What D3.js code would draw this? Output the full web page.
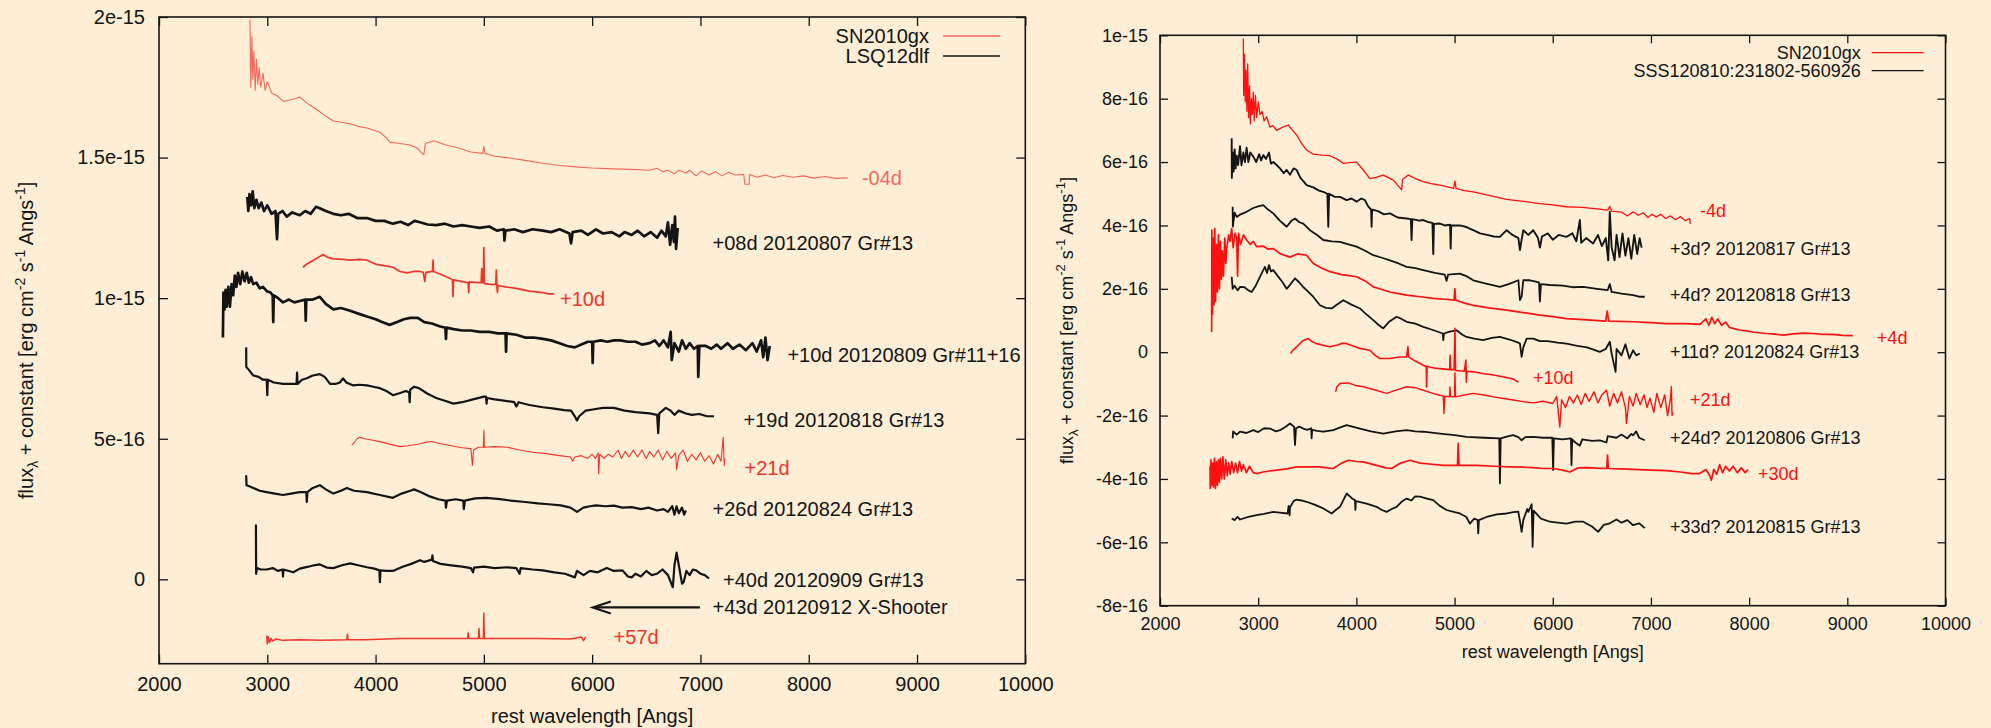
<!DOCTYPE html>
<html lang="en">
<head>
<meta charset="UTF-8">
<title>SN2010gx comparison spectra</title>
<style>
  body { margin: 0; background: #fdeed5; }
  svg { display: block; }
  text { font-family: "Liberation Sans", Arial, Helvetica, sans-serif; }
</style>
</head>
<body>
<svg id="chart" width="1991" height="728"></svg>
<script src="https://d3js.org/d3.v7.min.js"></script>
<script>
// flux in units of 1e-16 erg cm^-2 s^-1 A^-1 (each spectrum already shifted by its constant)
const xTicks = [2000, 3000, 4000, 5000, 6000, 7000, 8000, 9000, 10000];
const xTickLabels = ["2000", "3000", "4000", "5000", "6000", "7000", "8000", "9000", "10000"];
const leftYTicks = [0, 5, 10, 15, 20];
const leftYTickLabels = ["0", "5e-16", "1e-15", "1.5e-15", "2e-15"];
const rightYTicks = [-8, -6, -4, -2, 0, 2, 4, 6, 8, 10];
const rightYTickLabels = ["-8e-16", "-6e-16", "-4e-16", "-2e-16", "0", "2e-16", "4e-16", "6e-16", "8e-16", "1e-15"];

// ---- left panel: SN2010gx vs LSQ12dlf ----
const gxL_m04 = [[2840,19.9],[2848,17.5],[2858,19.3],[2866,17.8],[2876,18.8],[2888,17.4],[2900,18.5],[2912,17.6],[2925,18.2],[2940,17.5],[2960,18.0],[2980,17.4],[3000,17.7],[3040,17.3],[3090,17.2],[3150,17.0],[3210,17.05],[3260,17.1],[3300,17.15],[3380,16.9],[3460,16.7],[3530,16.5],[3610,16.3],[3700,16.25],[3765,16.2],[3850,16.1],[3920,16.05],[4040,15.9],[4100,15.7],[4130,15.55],[4225,15.5],[4320,15.45],[4380,15.35],[4430,15.15],[4445,15.1],[4460,15.5],[4540,15.6],[4650,15.45],[4760,15.35],[4880,15.2],[4990,15.15],[5000,15.4],[5010,15.15],[5100,15.05],[5215,15.0],[5380,14.9],[5545,14.8],[5700,14.72],[5875,14.66],[6000,14.63],[6200,14.6],[6350,14.58],[6530,14.55],[6600,14.62],[6650,14.5],[6700,14.55],[6760,14.42],[6800,14.55],[6865,14.45],[6900,14.55],[6960,14.35],[7010,14.52],[7080,14.38],[7140,14.5],[7200,14.35],[7260,14.48],[7320,14.38],[7400,14.4],[7410,14.05],[7450,14.05],[7455,14.4],[7520,14.3],[7600,14.38],[7680,14.28],[7760,14.36],[7855,14.3],[7950,14.35],[8050,14.27],[8150,14.33],[8250,14.26],[8360,14.28]];
const lsq_p08 = [[2815,13.6],[2825,13.1],[2835,13.7],[2850,13.3],[2865,13.8],[2880,13.2],[2900,13.5],[2920,13.2],[2945,13.4],[2970,13.1],[3000,13.3],[3040,13.0],[3075,13.1],[3090,12.1],[3100,13.0],[3140,13.1],[3180,12.9],[3230,13.05],[3300,12.95],[3350,13.1],[3400,13.0],[3450,13.25],[3485,13.2],[3540,13.1],[3610,13.0],[3680,12.95],[3750,13.0],[3830,12.85],[3920,12.85],[4000,12.75],[4080,12.75],[4160,12.65],[4230,12.72],[4300,12.6],[4360,12.75],[4410,12.7],[4480,12.62],[4560,12.6],[4640,12.65],[4720,12.55],[4800,12.6],[4880,12.55],[4960,12.5],[5050,12.55],[5120,12.4],[5185,12.45],[5190,12.05],[5200,12.4],[5280,12.45],[5360,12.35],[5450,12.45],[5545,12.4],[5620,12.35],[5700,12.45],[5790,12.3],[5805,11.95],[5820,12.35],[5900,12.4],[5960,12.25],[6035,12.45],[6100,12.3],[6180,12.35],[6250,12.2],[6300,12.35],[6365,12.25],[6420,12.4],[6480,12.2],[6540,12.35],[6600,12.15],[6640,12.4],[6680,12.2],[6700,12.7],[6720,11.9],[6740,12.6],[6755,12.0],[6765,12.9],[6775,11.75],[6790,12.5]];
const gxL_p10 = [[3330,11.1],[3360,11.2],[3425,11.35],[3470,11.45],[3515,11.55],[3560,11.45],[3610,11.4],[3700,11.38],[3765,11.35],[3850,11.38],[3920,11.35],[4010,11.2],[4090,11.15],[4160,11.1],[4225,10.95],[4290,10.9],[4350,10.95],[4410,10.95],[4440,10.92],[4455,10.6],[4465,10.92],[4525,10.95],[4530,11.35],[4535,10.95],[4600,10.85],[4680,10.72],[4710,10.65],[4715,10.05],[4720,10.65],[4790,10.6],[4855,10.55],[4860,10.2],[4865,10.58],[4950,10.55],[4975,10.55],[4980,11.05],[4985,10.55],[4995,10.55],[5000,11.8],[5005,10.52],[5080,10.48],[5110,10.5],[5115,11.0],[5120,10.45],[5125,10.2],[5130,10.45],[5200,10.4],[5300,10.35],[5420,10.25],[5545,10.2],[5600,10.15],[5650,10.15]];
const lsq_p10 = [[2590,8.6],[2595,10.2],[2605,9.6],[2615,10.3],[2625,9.7],[2640,10.4],[2655,9.7],[2670,10.5],[2685,10.1],[2700,10.8],[2715,10.4],[2730,10.9],[2750,10.5],[2770,10.95],[2790,10.6],[2810,10.9],[2830,10.55],[2850,10.75],[2870,10.5],[2900,10.55],[2930,10.35],[2960,10.4],[2995,10.25],[3030,10.2],[3050,10.1],[3055,9.15],[3060,10.1],[3100,10.0],[3145,9.85],[3200,9.95],[3250,9.85],[3300,9.9],[3350,9.95],[3355,9.2],[3360,9.95],[3420,9.95],[3485,10.05],[3540,9.8],[3610,9.6],[3680,9.65],[3765,9.55],[3840,9.45],[3920,9.35],[4000,9.25],[4060,9.15],[4130,9.05],[4200,9.15],[4260,9.25],[4320,9.3],[4390,9.3],[4450,9.15],[4520,9.1],[4590,9.0],[4645,8.95],[4650,8.55],[4655,8.95],[4720,8.9],[4800,8.85],[4880,8.85],[4960,8.8],[5050,8.8],[5130,8.75],[5200,8.75],[5205,8.1],[5210,8.75],[5300,8.7],[5380,8.6],[5460,8.6],[5545,8.55],[5620,8.5],[5700,8.4],[5770,8.3],[5840,8.25],[5900,8.35],[5960,8.45],[6000,8.45],[6005,7.7],[6010,8.45],[6080,8.5],[6140,8.45],[6200,8.5],[6260,8.5],[6330,8.45],[6400,8.45],[6460,8.35],[6530,8.4],[6580,8.5],[6620,8.3],[6660,8.5],[6700,8.25],[6725,8.8],[6735,7.8],[6760,8.4],[6800,8.1],[6830,8.5],[6865,8.2],[6900,8.4],[6940,8.2],[6975,8.3],[6980,7.2],[6990,8.3],[7050,8.3],[7100,8.2],[7150,8.35],[7190,8.2],[7250,8.4],[7300,8.2],[7360,8.35],[7420,8.15],[7480,8.4],[7520,8.1],[7560,8.5],[7580,7.9],[7600,8.6],[7620,7.8],[7640,8.3]];
const lsq_p19 = [[2805,8.25],[2806,7.55],[2830,7.45],[2870,7.25],[2920,7.2],[2960,7.1],[2995,7.1],[3000,6.55],[3005,7.1],[3060,7.0],[3145,6.95],[3200,6.95],[3270,6.95],[3275,7.35],[3280,6.95],[3320,7.1],[3365,7.15],[3420,7.25],[3485,7.3],[3530,7.2],[3580,6.95],[3630,6.95],[3670,7.0],[3700,7.15],[3730,7.0],[3790,6.9],[3850,6.92],[3920,6.9],[3980,6.85],[4040,6.8],[4100,6.7],[4160,6.55],[4220,6.62],[4280,6.7],[4310,6.65],[4315,6.3],[4320,6.75],[4355,6.85],[4400,6.8],[4480,6.6],[4560,6.45],[4640,6.35],[4720,6.25],[4800,6.3],[4900,6.4],[5000,6.5],[5020,6.5],[5025,6.25],[5030,6.45],[5100,6.4],[5200,6.35],[5280,6.3],[5300,6.15],[5320,6.3],[5420,6.2],[5545,6.12],[5650,6.07],[5740,6.02],[5805,6.0],[5840,5.8],[5860,5.65],[5880,5.8],[5940,6.0],[6020,6.05],[6100,6.1],[6200,6.1],[6300,6.0],[6400,5.95],[6530,5.9],[6600,5.85],[6610,5.2],[6620,5.9],[6680,6.1],[6725,6.0],[6760,5.85],[6800,6.0],[6865,5.9],[6920,5.85],[6990,5.88],[7060,5.8],[7125,5.8]];
const gxL_p21 = [[3780,4.77],[3800,4.85],[3830,5.0],[3855,5.05],[3900,5.0],[3975,4.95],[4060,4.88],[4140,4.8],[4225,4.72],[4300,4.75],[4410,4.82],[4470,4.88],[4520,4.9],[4600,4.82],[4700,4.75],[4800,4.68],[4880,4.65],[4895,4.05],[4905,4.6],[4950,4.7],[4995,4.7],[5000,5.3],[5005,4.7],[5100,4.72],[5215,4.7],[5330,4.6],[5450,4.52],[5575,4.47],[5700,4.4],[5800,4.35],[5820,4.2],[5840,4.35],[5900,4.4],[5960,4.3],[6000,4.45],[6030,4.3],[6055,4.5],[6060,3.75],[6070,4.45],[6110,4.3],[6150,4.45],[6190,4.35],[6240,4.6],[6270,4.3],[6305,4.55],[6340,4.35],[6380,4.6],[6420,4.35],[6460,4.6],[6500,4.3],[6530,4.55],[6570,4.35],[6610,4.6],[6650,4.25],[6690,4.55],[6730,4.3],[6770,4.5],[6780,3.9],[6800,4.4],[6840,4.6],[6880,4.2],[6920,4.45],[6960,4.25],[7000,4.5],[7040,4.2],[7080,4.4],[7120,4.1],[7160,4.45],[7190,4.2],[7210,5.05],[7220,4.05],[7225,4.3]];
const lsq_p26 = [[2805,3.7],[2808,3.35],[2840,3.3],[2870,3.25],[2930,3.15],[2995,3.1],[3070,3.05],[3145,3.0],[3220,3.05],[3300,3.1],[3360,3.1],[3365,2.75],[3370,3.1],[3420,3.25],[3485,3.35],[3540,3.2],[3610,3.05],[3680,3.15],[3735,3.25],[3800,3.15],[3920,3.1],[4040,3.0],[4160,2.9],[4240,3.05],[4320,3.15],[4355,3.2],[4420,3.1],[4500,2.95],[4580,2.85],[4645,2.8],[4650,2.55],[4660,2.8],[4740,2.85],[4810,2.8],[4815,2.5],[4825,2.8],[4920,2.88],[5020,2.9],[5150,2.85],[5250,2.8],[5380,2.75],[5500,2.7],[5600,2.67],[5710,2.63],[5800,2.55],[5860,2.4],[5920,2.55],[5980,2.6],[6035,2.63],[6120,2.6],[6200,2.62],[6280,2.55],[6365,2.57],[6450,2.5],[6520,2.55],[6600,2.45],[6660,2.5],[6700,2.4],[6740,2.6],[6760,2.3],[6780,2.6],[6800,2.35],[6830,2.55],[6850,2.3],[6865,2.45]];
const lsq_p40 = [[2895,1.95],[2897,0.2],[2905,0.4],[2940,0.35],[2995,0.35],[3050,0.4],[3100,0.3],[3140,0.35],[3145,0.1],[3150,0.35],[3240,0.25],[3300,0.38],[3380,0.45],[3430,0.5],[3485,0.53],[3550,0.42],[3610,0.4],[3690,0.5],[3765,0.57],[3840,0.5],[3920,0.43],[3990,0.38],[4035,0.32],[4040,-0.1],[4045,0.32],[4100,0.3],[4160,0.3],[4250,0.45],[4330,0.55],[4410,0.68],[4450,0.62],[4520,0.7],[4525,0.85],[4530,0.65],[4600,0.55],[4700,0.5],[4800,0.45],[4880,0.4],[4900,0.25],[4910,0.42],[5000,0.45],[5100,0.4],[5215,0.43],[5300,0.4],[5330,0.2],[5340,0.4],[5450,0.35],[5545,0.32],[5650,0.25],[5750,0.2],[5840,0.07],[5860,0.3],[5920,0.15],[5980,0.3],[6050,0.25],[6135,0.4],[6200,0.3],[6280,0.32],[6330,0.1],[6365,0.07],[6400,0.2],[6450,0.1],[6500,0.3],[6550,0.15],[6600,0.2],[6650,0.35],[6700,0.15],[6745,-0.28],[6760,0.5],[6780,0.95],[6800,0.5],[6830,-0.15],[6845,-0.1],[6870,0.3],[6900,0.15],[6930,0.35],[6960,0.32],[7000,0.2],[7040,0.15],[7080,0.03]];
const gxL_p57 = [[2995,-2.0],[3000,-2.3],[3010,-2.05],[3020,-2.25],[3035,-2.1],[3050,-2.2],[3080,-2.12],[3145,-2.17],[3300,-2.15],[3500,-2.17],[3735,-2.15],[3740,-1.95],[3745,-2.15],[3900,-2.15],[4100,-2.12],[4225,-2.1],[4500,-2.1],[4850,-2.1],[4855,-1.9],[4860,-2.1],[4950,-2.1],[4955,-1.75],[4960,-2.1],[4995,-2.1],[5000,-1.2],[5005,-2.1],[5215,-2.1],[5500,-2.1],[5800,-2.12],[5900,-2.05],[5920,-2.18],[5940,-2.05]];
const arrow43 = [[6995, -1.0], [6006, -1.0]];

// ---- right panel: SN2010gx vs SSS120810:231802-560926 ----
const gxR_m4 = [[2849,9.9],[2852,8.1],[2860,9.4],[2868,7.9],[2876,8.9],[2885,7.6],[2893,9.1],[2902,7.4],[2912,8.4],[2920,7.2],[2930,8.0],[2940,7.5],[2950,8.2],[2960,7.3],[2972,8.1],[2985,7.4],[3000,7.9],[3018,7.5],[3040,7.6],[3060,7.3],[3086,7.43],[3120,7.1],[3150,7.15],[3188,7.0],[3250,7.1],[3307,7.17],[3350,7.0],[3392,6.85],[3440,6.6],[3493,6.38],[3561,6.25],[3650,6.22],[3731,6.2],[3800,6.1],[3867,5.96],[3930,5.98],[4002,6.0],[4070,5.75],[4138,5.48],[4200,5.52],[4274,5.59],[4330,5.5],[4376,5.43],[4440,5.2],[4461,5.12],[4470,5.45],[4529,5.59],[4600,5.48],[4681,5.38],[4760,5.32],[4851,5.27],[4950,5.2],[4990,5.17],[5004,5.4],[5015,5.17],[5100,5.1],[5190,5.06],[5350,4.95],[5530,4.82],[5700,4.76],[5869,4.69],[6000,4.65],[6140,4.59],[6300,4.57],[6450,4.52],[6560,4.48],[6581,4.6],[6600,4.45],[6700,4.42],[6760,4.3],[6818,4.43],[6870,4.32],[6920,4.4],[6970,4.25],[7010,4.35],[7056,4.27],[7100,4.35],[7150,4.22],[7200,4.3],[7250,4.18],[7300,4.28],[7350,4.15],[7395,4.22],[7400,4.05]];
const sss_p3 = [[2730,6.75],[2732,5.5],[2740,6.3],[2750,5.7],[2760,6.4],[2770,5.8],[2781,6.2],[2795,5.9],[2815,6.5],[2830,5.9],[2849,6.3],[2865,6.0],[2882,6.45],[2900,6.0],[2920,6.3],[2950,6.17],[2980,6.0],[3010,6.25],[3030,6.05],[3052,6.22],[3080,6.1],[3110,6.3],[3130,5.95],[3154,6.0],[3190,5.9],[3222,5.8],[3260,5.65],[3290,5.75],[3324,5.6],[3360,5.8],[3392,5.75],[3430,5.5],[3460,5.4],[3493,5.27],[3560,5.2],[3620,5.1],[3663,5.06],[3705,5.0],[3714,3.96],[3722,5.0],[3780,4.9],[3833,4.9],[3900,4.8],[3950,4.85],[4002,4.75],[4050,4.85],[4087,4.8],[4120,4.6],[4150,4.5],[4155,3.96],[4160,4.5],[4220,4.45],[4280,4.35],[4342,4.38],[4420,4.25],[4512,4.22],[4555,4.2],[4562,3.54],[4570,4.2],[4640,4.15],[4681,4.17],[4740,4.1],[4775,4.08],[4783,3.1],[4790,4.05],[4851,4.06],[4900,4.0],[4955,4.02],[4960,3.27],[4966,4.0],[5054,4.0],[5120,3.95],[5190,3.85],[5260,3.75],[5330,3.7],[5400,3.65],[5462,3.64],[5530,3.85],[5590,3.7],[5650,3.6],[5666,3.22],[5680,3.5],[5700,3.85],[5750,3.7],[5801,3.85],[5850,3.6],[5869,3.3],[5890,3.65],[5950,3.75],[6000,3.55],[6060,3.7],[6140,3.64],[6200,3.75],[6240,3.5],[6276,4.17],[6290,3.45],[6340,3.6],[6411,3.43],[6460,3.7],[6500,3.35],[6540,3.6],[6565,2.9],[6581,4.43],[6600,3.3],[6630,2.9],[6650,3.7],[6680,3.0],[6710,3.75],[6740,3.05],[6770,3.6],[6800,2.95],[6830,3.7],[6860,3.1],[6885,3.6],[6905,3.3]];
const sss_p4 = [[2740,4.59],[2742,3.96],[2760,4.4],[2781,4.27],[2820,4.35],[2882,4.43],[2950,4.55],[3000,4.6],[3052,4.64],[3100,4.5],[3154,4.38],[3220,4.15],[3290,3.96],[3340,4.15],[3375,4.22],[3420,4.1],[3459,4.06],[3527,3.85],[3600,3.7],[3663,3.54],[3750,3.5],[3833,3.48],[3920,3.4],[4002,3.33],[4090,3.2],[4172,3.06],[4260,2.98],[4342,2.9],[4430,2.8],[4512,2.69],[4600,2.65],[4681,2.59],[4800,2.5],[4900,2.45],[4919,2.25],[4935,2.45],[5054,2.48],[5120,2.4],[5190,2.27],[5300,2.18],[5462,2.06],[5550,2.15],[5650,2.27],[5666,1.64],[5683,1.75],[5700,2.27],[5768,2.27],[5860,2.2],[5869,1.6],[5880,2.15],[5971,2.12],[6100,2.1],[6200,2.05],[6310,2.06],[6450,2.0],[6560,1.96],[6581,2.15],[6600,1.9],[6700,1.85],[6818,1.8],[6880,1.75],[6937,1.75]];
const gxR_p4 = [[2526,0.64],[2528,3.85],[2535,1.2],[2542,3.6],[2550,1.5],[2558,3.9],[2566,1.6],[2575,3.4],[2585,1.9],[2595,3.7],[2605,2.0],[2615,3.5],[2625,2.3],[2635,3.2],[2645,2.4],[2660,3.6],[2670,2.8],[2680,3.3],[2700,3.7],[2713,3.5],[2730,3.9],[2745,3.3],[2765,3.75],[2781,3.6],[2790,2.4],[2800,3.75],[2820,3.4],[2850,3.7],[2882,3.54],[2920,3.4],[2950,3.5],[2984,3.33],[3050,3.35],[3100,3.25],[3154,3.27],[3230,3.1],[3324,3.0],[3400,3.1],[3493,3.06],[3561,2.8],[3650,2.65],[3731,2.54],[3850,2.45],[4002,2.38],[4104,2.22],[4172,2.06],[4260,1.98],[4342,1.9],[4430,1.85],[4512,1.8],[4650,1.75],[4783,1.7],[4900,1.67],[4995,1.64],[5003,2.0],[5012,1.64],[5100,1.55],[5190,1.48],[5350,1.4],[5530,1.33],[5700,1.25],[5869,1.17],[6000,1.12],[6140,1.06],[6350,1.02],[6540,0.98],[6554,1.3],[6570,0.98],[6818,0.96],[7000,0.93],[7157,0.9],[7350,0.9],[7500,0.88],[7560,1.05],[7590,0.85],[7620,1.1],[7650,0.9],[7680,1.05],[7720,0.85],[7760,0.95],[7800,0.78],[7836,0.75],[7900,0.7],[7972,0.67],[8050,0.63],[8175,0.59],[8260,0.57],[8345,0.54],[8450,0.58],[8550,0.6],[8650,0.59],[8750,0.56],[8853,0.56],[8950,0.53],[9057,0.52]];
const sss_p11 = [[2730,2.38],[2740,2.0],[2760,2.1],[2790,1.95],[2815,2.06],[2860,2.05],[2900,1.95],[2933,1.9],[2975,2.1],[3018,2.38],[3045,2.55],[3069,2.69],[3090,2.5],[3110,2.75],[3130,2.55],[3154,2.59],[3200,2.4],[3250,2.2],[3290,2.0],[3330,2.15],[3375,2.33],[3420,2.2],[3460,2.05],[3493,1.96],[3560,1.75],[3629,1.48],[3690,1.4],[3748,1.38],[3800,1.5],[3867,1.64],[3950,1.5],[4036,1.38],[4100,1.2],[4172,1.01],[4230,0.85],[4274,0.75],[4330,0.95],[4410,1.12],[4460,1.05],[4512,0.96],[4600,0.9],[4681,0.8],[4780,0.7],[4880,0.59],[4885,0.38],[4892,0.59],[4950,0.65],[5020,0.69],[5080,0.55],[5122,0.48],[5200,0.43],[5292,0.38],[5380,0.45],[5462,0.48],[5560,0.4],[5650,0.3],[5666,0.27],[5683,-0.15],[5700,0.15],[5734,0.43],[5801,0.43],[5869,0.35],[5950,0.35],[6050,0.3],[6140,0.27],[6250,0.2],[6350,0.15],[6479,0.01],[6540,0.1],[6581,0.33],[6600,-0.05],[6640,-0.62],[6650,0.1],[6700,-0.1],[6740,0.25],[6780,-0.2],[6818,0.06],[6850,-0.1],[6886,-0.04]];
const gxR_p10 = [[3330,-0.04],[3350,0.05],[3392,0.17],[3450,0.35],[3510,0.43],[3550,0.33],[3595,0.27],[3660,0.22],[3731,0.17],[3800,0.22],[3860,0.28],[3901,0.27],[3960,0.2],[4036,0.12],[4138,0.06],[4190,-0.1],[4240,-0.2],[4342,-0.2],[4440,-0.15],[4512,-0.15],[4525,0.17],[4532,-0.15],[4600,-0.28],[4681,-0.41],[4712,-0.45],[4715,-1.1],[4720,-0.45],[4790,-0.5],[4851,-0.52],[4950,-0.55],[4955,-0.1],[4960,-0.55],[4995,-0.55],[5004,0.75],[5010,-0.58],[5100,-0.6],[5115,-0.25],[5120,-0.95],[5125,-0.6],[5190,-0.62],[5300,-0.68],[5400,-0.72],[5530,-0.8],[5600,-0.85],[5649,-0.95]];
const gxR_p21 = [[3789,-1.25],[3800,-1.1],[3833,-0.99],[3918,-0.97],[3990,-1.05],[4070,-1.09],[4200,-1.2],[4308,-1.3],[4420,-1.18],[4512,-1.09],[4600,-1.12],[4681,-1.2],[4780,-1.3],[4851,-1.36],[4885,-1.38],[4892,-1.93],[4900,-1.4],[4950,-1.4],[4953,-1.1],[4960,-1.4],[5000,-1.41],[5004,-0.65],[5010,-1.41],[5100,-1.35],[5190,-1.3],[5300,-1.35],[5394,-1.41],[5500,-1.46],[5598,-1.51],[5700,-1.56],[5801,-1.6],[5900,-1.55],[6000,-1.62],[6040,-1.4],[6072,-2.36],[6090,-1.5],[6130,-1.75],[6170,-1.4],[6210,-1.6],[6250,-1.35],[6290,-1.65],[6330,-1.3],[6370,-1.55],[6420,-1.25],[6460,-1.6],[6500,-1.35],[6547,-1.2],[6580,-1.7],[6620,-1.3],[6660,-1.6],[6700,-1.25],[6740,-1.75],[6751,-2.25],[6780,-1.4],[6818,-1.7],[6850,-1.3],[6890,-1.65],[6930,-1.35],[6960,-1.75],[6990,-1.45],[7030,-1.9],[7060,-1.3],[7100,-1.75],[7140,-1.35],[7170,-2.0],[7200,-1.45],[7208,-1.09],[7215,-2.0],[7225,-1.9]];
const sss_p24 = [[2740,-2.72],[2745,-2.5],[2780,-2.6],[2815,-2.51],[2880,-2.55],[2950,-2.46],[3000,-2.52],[3060,-2.4],[3120,-2.41],[3180,-2.5],[3222,-2.46],[3280,-2.35],[3324,-2.25],[3365,-2.35],[3375,-2.93],[3385,-2.4],[3420,-2.35],[3459,-2.41],[3500,-2.45],[3540,-2.4],[3544,-2.72],[3550,-2.45],[3600,-2.48],[3663,-2.51],[3765,-2.46],[3830,-2.38],[3901,-2.3],[3960,-2.35],[4036,-2.41],[4150,-2.5],[4274,-2.57],[4400,-2.5],[4512,-2.46],[4600,-2.5],[4681,-2.51],[4851,-2.57],[5000,-2.62],[5122,-2.67],[5300,-2.7],[5455,-2.72],[5462,-4.14],[5470,-2.72],[5550,-2.65],[5598,-2.62],[5650,-2.68],[5683,-2.78],[5720,-2.68],[5801,-2.67],[5900,-2.7],[5995,-2.7],[6004,-3.72],[6012,-2.72],[6100,-2.75],[6185,-2.72],[6191,-3.56],[6198,-2.75],[6230,-2.85],[6276,-2.95],[6300,-2.75],[6400,-2.8],[6479,-2.78],[6547,-2.85],[6560,-2.65],[6649,-2.7],[6700,-2.6],[6760,-2.72],[6800,-2.58],[6818,-2.62],[6850,-2.5],[6880,-2.7],[6937,-2.78]];
const gxR_p30 = [[2509,-3.6],[2512,-4.3],[2520,-3.4],[2528,-4.2],[2536,-3.5],[2545,-4.25],[2555,-3.35],[2565,-4.3],[2575,-3.45],[2585,-4.2],[2595,-3.4],[2605,-4.1],[2615,-3.35],[2628,-4.0],[2640,-3.3],[2655,-4.0],[2670,-3.4],[2685,-3.9],[2700,-3.5],[2715,-3.85],[2730,-3.45],[2750,-3.8],[2770,-3.5],[2790,-3.8],[2810,-3.45],[2830,-3.75],[2849,-3.55],[2880,-3.8],[2910,-3.6],[2950,-3.8],[2984,-3.83],[3050,-3.78],[3120,-3.75],[3188,-3.72],[3290,-3.68],[3392,-3.62],[3500,-3.62],[3629,-3.62],[3700,-3.65],[3765,-3.67],[3850,-3.5],[3918,-3.41],[4000,-3.45],[4070,-3.46],[4206,-3.57],[4300,-3.65],[4359,-3.67],[4450,-3.5],[4546,-3.41],[4650,-3.5],[4715,-3.52],[4885,-3.57],[5030,-3.57],[5037,-2.88],[5045,-3.57],[5224,-3.57],[5400,-3.6],[5563,-3.62],[5700,-3.63],[5801,-3.64],[5903,-3.67],[6004,-3.67],[6100,-3.72],[6174,-3.78],[6260,-3.65],[6344,-3.64],[6450,-3.66],[6550,-3.67],[6558,-3.25],[6566,-3.67],[6700,-3.68],[6818,-3.7],[7000,-3.72],[7157,-3.74],[7300,-3.78],[7420,-3.83],[7497,-3.83],[7560,-3.7],[7600,-3.9],[7615,-4.04],[7640,-3.7],[7670,-3.85],[7700,-3.55],[7730,-3.8],[7760,-3.6],[7800,-3.75],[7836,-3.6],[7880,-3.8],[7920,-3.65],[7960,-3.8],[7988,-3.7]];
const sss_p33 = [[2730,-5.25],[2760,-5.3],[2790,-5.2],[2815,-5.28],[2900,-5.2],[2984,-5.14],[3060,-5.1],[3154,-5.04],[3220,-5.06],[3300,-5.09],[3310,-4.85],[3320,-5.15],[3324,-4.9],[3360,-4.7],[3392,-4.65],[3440,-4.68],[3493,-4.72],[3580,-4.82],[3663,-4.93],[3748,-5.09],[3790,-4.98],[3833,-4.88],[3870,-4.65],[3901,-4.46],[3950,-4.6],[3986,-4.67],[3990,-4.98],[3995,-4.7],[4104,-4.78],[4206,-4.88],[4260,-4.98],[4308,-5.04],[4360,-4.95],[4410,-4.88],[4460,-4.72],[4512,-4.62],[4560,-4.68],[4600,-4.55],[4648,-4.56],[4720,-4.62],[4783,-4.67],[4850,-4.85],[4919,-4.98],[5000,-5.05],[5054,-5.09],[5120,-5.2],[5156,-5.41],[5200,-5.25],[5235,-5.3],[5241,-5.72],[5248,-5.3],[5326,-5.2],[5430,-5.12],[5530,-5.09],[5600,-5.05],[5649,-5.03],[5670,-5.4],[5683,-5.67],[5700,-5.3],[5740,-4.95],[5751,-5.04],[5785,-4.8],[5795,-6.14],[5805,-5.0],[5880,-5.25],[5971,-5.35],[6050,-5.38],[6140,-5.41],[6230,-5.35],[6310,-5.35],[6400,-5.5],[6462,-5.67],[6520,-5.45],[6581,-5.4],[6649,-5.28],[6700,-5.38],[6760,-5.3],[6818,-5.46],[6880,-5.4],[6937,-5.55]];

const RED_L = "#f0352c", RED_L2 = "#f4695b", RED_R = "#ff1010", INK = "#141414";

const svg = d3.select("#chart");
svg.append("rect").attr("width", 1991).attr("height", 728).attr("fill", "#fdeed5");

function drawPanel(p) {
    const x = d3.scaleLinear().domain([2000, 10000]).range([p.left, p.right]);
    const y = d3.scaleLinear().domain(p.yDomain).range([p.bottom, p.top]);
    const g = svg.append("g");

    const styleAxis = a => {
        a.attr("color", INK);
        a.select(".domain").remove();
        a.selectAll(".tick line").attr("stroke-width", 1.3);
        a.selectAll("text").attr("font-size", p.font).attr("fill", INK);
    };
    const fmt = (ticks, labels) => d => labels[ticks.indexOf(d)];

    g.append("g").attr("transform", `translate(0,${p.bottom})`)
        .call(d3.axisBottom(x).tickValues(xTicks).tickFormat(fmt(xTicks, xTickLabels))
            .tickSizeInner(-p.tick).tickSizeOuter(0).tickPadding(p.xPad))
        .call(styleAxis);
    g.append("g").attr("transform", `translate(0,${p.top})`)
        .call(d3.axisTop(x).tickValues(xTicks).tickFormat("").tickSizeInner(-p.tick).tickSizeOuter(0))
        .call(styleAxis);
    g.append("g").attr("transform", `translate(${p.left},0)`)
        .call(d3.axisLeft(y).tickValues(p.yTicks).tickFormat(fmt(p.yTicks, p.yLabels))
            .tickSizeInner(-p.tick).tickSizeOuter(0).tickPadding(p.yPad))
        .call(styleAxis);
    g.append("g").attr("transform", `translate(${p.right},0)`)
        .call(d3.axisRight(y).tickValues(p.yTicks).tickFormat("").tickSizeInner(-p.tick).tickSizeOuter(0))
        .call(styleAxis);

    g.append("rect")
        .attr("x", p.left).attr("y", p.top)
        .attr("width", p.right - p.left).attr("height", p.bottom - p.top)
        .attr("fill", "none").attr("stroke", INK).attr("stroke-width", 1.6);

    // axis titles
    g.append("text")
        .attr("x", (p.left + p.right) / 2).attr("y", p.xTitleY)
        .attr("text-anchor", "middle").attr("font-size", p.font).attr("fill", INK)
        .text("rest wavelength [Angs]");

    const yt = g.append("text")
        .attr("transform", `translate(${p.yTitleX},${(p.top + p.bottom) / 2}) rotate(-90)`)
        .attr("text-anchor", "middle").attr("font-size", p.font).attr("fill", INK);
    const small = Math.round(p.font * 0.7);
    [["flux", 0, null], ["λ", 5, small], [" + constant [erg cm", -5, null], ["-2", -8, small],
     [" s", 8, null], ["-1", -8, small], [" Angs", 8, null], ["-1", -8, small], ["]", 8, null]]
        .forEach(([t, dy, fs]) => {
            const ts = yt.append("tspan").attr("dy", dy).text(t);
            if (fs) ts.attr("font-size", fs);
        });

    // spectra
    const line = d3.line().x(d => x(d[0])).y(d => y(d[1]));
    p.series.forEach(s => {
        g.append("path").datum(s.data)
            .attr("d", line)
            .attr("fill", "none")
            .attr("stroke", s.color)
            .attr("stroke-width", s.width)
            .attr("stroke-linejoin", "round");
        g.append("text")
            .attr("x", x(s.at[0])).attr("y", y(s.at[1])).attr("dy", "0.35em")
            .attr("font-size", p.font).attr("fill", s.color)
            .text(s.label);
    });

    // legend
    p.legend.forEach((l, i) => {
        const ly = p.legendY + i * p.legendGap;
        g.append("text").attr("x", p.legendX).attr("y", ly).attr("dy", "0.35em")
            .attr("text-anchor", "end").attr("font-size", p.font).attr("fill", INK).text(l.name);
        g.append("line").attr("x1", p.legendX + p.legendPad).attr("x2", p.legendX + p.legendPad + p.legendLen)
            .attr("y1", ly).attr("y2", ly).attr("stroke", l.color).attr("stroke-width", 1.3);
    });

    return { x, y, g };
}

const left = drawPanel({
    left: 159, right: 1025.3, top: 17, bottom: 663.7,
    yDomain: [-3, 20], yTicks: leftYTicks, yLabels: leftYTickLabels,
    font: 20, tick: 9, xPad: 13, yPad: 14, xTitleY: 723, yTitleX: 33,
    legendX: 929, legendY: 36, legendGap: 20, legendPad: 14, legendLen: 57,
    legend: [{ name: "SN2010gx", color: RED_L2 }, { name: "LSQ12dlf", color: INK }],
    series: [
        { data: gxL_m04, color: RED_L2, width: 1.1, label: "-04d", at: [8491, 14.27] },
        { data: lsq_p08, color: INK, width: 2.7, label: "+08d 20120807 Gr#13", at: [7111, 11.96] },
        { data: gxL_p10, color: RED_L, width: 1.7, label: "+10d", at: [5703, 9.96] },
        { data: lsq_p10, color: INK, width: 2.7, label: "+10d 20120809 Gr#11+16", at: [7803, 7.97] },
        { data: lsq_p19, color: INK, width: 2.2, label: "+19d 20120818 Gr#13", at: [7398, 5.66] },
        { data: gxL_p21, color: RED_L, width: 1.1, label: "+21d", at: [7407, 3.95] },
        { data: lsq_p26, color: INK, width: 2.2, label: "+26d 20120824 Gr#13", at: [7111, 2.49] },
        { data: lsq_p40, color: INK, width: 2.2, label: "+40d 20120909 Gr#13", at: [7208, -0.04] },
        { data: gxL_p57, color: RED_L, width: 1.5, label: "+57d", at: [6198, -2.06] }
    ]
});

// X-Shooter epoch only marked by an arrow
{
    const { x, y, g } = left;
    const [a, b] = arrow43;
    const x0 = x(a[0]), x1 = x(b[0]), yy = y(a[1]);
    g.append("line").attr("x1", x0).attr("x2", x1 + 2).attr("y1", yy).attr("y2", yy)
        .attr("stroke", INK).attr("stroke-width", 2.2);
    g.append("path")
        .attr("d", `M${x1 + 18},${yy - 6} L${x1},${yy} L${x1 + 18},${yy + 6}`)
        .attr("fill", "none").attr("stroke", INK).attr("stroke-width", 2.2);
    g.append("text").attr("x", x(7111)).attr("y", yy).attr("dy", "0.35em")
        .attr("font-size", 20).attr("fill", INK).text("+43d 20120912 X-Shooter");
}

drawPanel({
    left: 1160, right: 1945.5, top: 35.3, bottom: 605.7,
    yDomain: [-8, 10], yTicks: rightYTicks, yLabels: rightYTickLabels,
    font: 18, tick: 8, xPad: 11.5, yPad: 12, xTitleY: 658, yTitleX: 1073,
    legendX: 1860.7, legendY: 52.7, legendGap: 18, legendPad: 11, legendLen: 52,
    legend: [{ name: "SN2010gx", color: RED_R }, { name: "SSS120810:231802-560926", color: INK }],
    series: [
        { data: gxR_m4, color: RED_R, width: 1.3, label: "-4d", at: [7499, 4.48] },
        { data: sss_p3, color: INK, width: 1.9, label: "+3d? 20120817 Gr#13", at: [7193, 3.28] },
        { data: sss_p4, color: INK, width: 1.8, label: "+4d? 20120818 Gr#13", at: [7193, 1.8] },
        { data: gxR_p4, color: RED_R, width: 1.7, label: "+4d", at: [9301, 0.47] },
        { data: sss_p11, color: INK, width: 1.8, label: "+11d? 20120824 Gr#13", at: [7193, 0.01] },
        { data: gxR_p10, color: RED_R, width: 1.6, label: "+10d", at: [5798, -0.82] },
        { data: gxR_p21, color: RED_R, width: 1.4, label: "+21d", at: [7397, -1.51] },
        { data: sss_p24, color: INK, width: 1.8, label: "+24d? 20120806 Gr#13", at: [7193, -2.71] },
        { data: gxR_p30, color: RED_R, width: 1.7, label: "+30d", at: [8090, -3.82] },
        { data: sss_p33, color: INK, width: 1.8, label: "+33d? 20120815 Gr#13", at: [7193, -5.52] }
    ]
});
</script>
</body>
</html>
